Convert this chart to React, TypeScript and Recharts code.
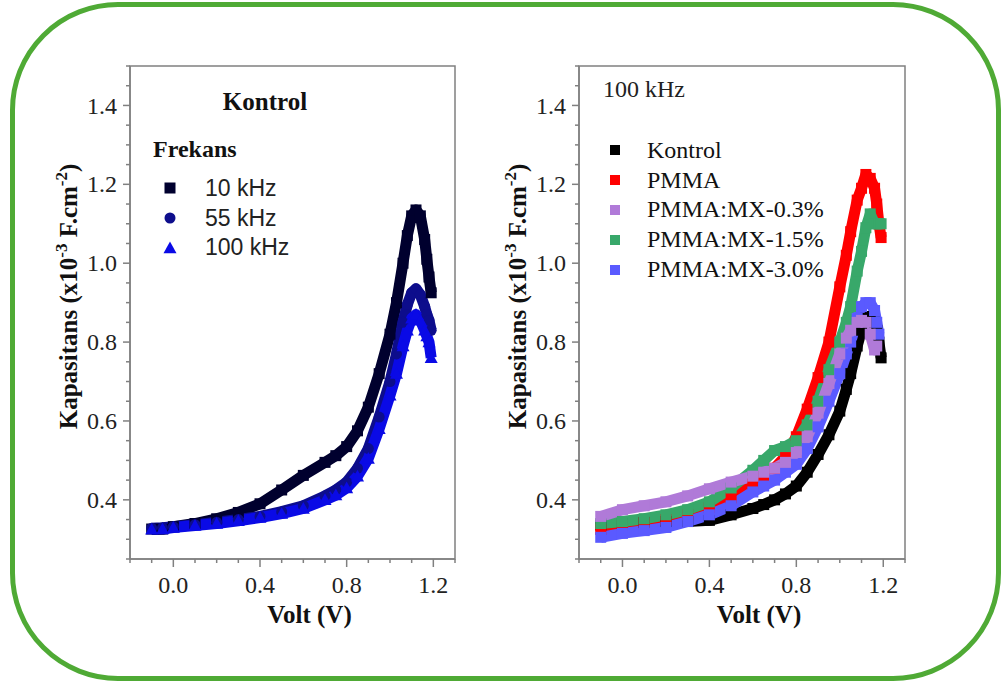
import React from 'react';
import { LineChart, Line, XAxis, YAxis, ReferenceArea, Customized } from 'recharts';

// ---------- DATA ----------
const voltsLeft = [-0.1, -0.05, 0.0, 0.1, 0.2, 0.3, 0.4, 0.5, 0.6, 0.7, 0.75, 0.8, 0.85, 0.9, 0.95, 1.0, 1.03, 1.06, 1.08, 1.1, 1.12, 1.14, 1.16, 1.17, 1.18, 1.19];
const cap10kHz = [0.326, 0.326, 0.332, 0.34, 0.352, 0.368, 0.39, 0.425, 0.462, 0.495, 0.512, 0.535, 0.575, 0.635, 0.72, 0.82, 0.9, 1.0, 1.07, 1.12, 1.135, 1.12, 1.06, 1.01, 0.965, 0.925];
const cap55kHz = [0.328, 0.329, 0.332, 0.337, 0.343, 0.35, 0.358, 0.37, 0.385, 0.41, 0.425, 0.445, 0.48, 0.53, 0.61, 0.7, 0.77, 0.85, 0.895, 0.925, 0.935, 0.92, 0.89, 0.87, 0.855, 0.83];
const cap100kHz = [0.325, 0.326, 0.33, 0.335, 0.34, 0.347, 0.355, 0.365, 0.378, 0.4, 0.412, 0.43, 0.46, 0.505, 0.58, 0.665, 0.72, 0.79, 0.83, 0.86, 0.87, 0.855, 0.83, 0.815, 0.8, 0.76];
const leftNames = ['10 kHz', '55 kHz', '100 kHz'];

const voltsRight = [-0.1, 0.0, 0.1, 0.2, 0.3, 0.4, 0.5, 0.6, 0.65, 0.7, 0.75, 0.8, 0.85, 0.9, 0.95, 1.0, 1.03, 1.05, 1.08, 1.1, 1.12, 1.14, 1.16, 1.17, 1.18, 1.19];
const capKontrol = [0.336, 0.34, 0.343, 0.345, 0.345, 0.348, 0.362, 0.378, 0.388, 0.4, 0.415, 0.435, 0.47, 0.515, 0.565, 0.625, 0.68, 0.72, 0.79, 0.83, 0.86, 0.865, 0.85, 0.83, 0.8, 0.76];
const capPMMA = [0.325, 0.335, 0.342, 0.35, 0.362, 0.38, 0.405, 0.44, 0.46, 0.48, 0.51, 0.56, 0.63, 0.71, 0.8, 0.94, 1.02, 1.08, 1.16, 1.19, 1.225, 1.215, 1.19, 1.15, 1.1, 1.065];
const capMX03 = [0.358, 0.375, 0.385, 0.395, 0.41, 0.428, 0.445, 0.46, 0.47, 0.48, 0.495, 0.52, 0.56, 0.62, 0.695, 0.77, 0.81, 0.83, 0.85, 0.855, 0.85, 0.82, 0.78, 0.79, null, null];
const capMX15 = [0.34, 0.345, 0.352, 0.362, 0.375, 0.395, 0.43, 0.475, 0.5, 0.525, 0.535, 0.55, 0.59, 0.65, 0.73, 0.8, 0.85, 0.89, 0.98, 1.03, 1.09, 1.125, 1.1, 1.1, 1.1, 1.1];
const capMX30 = [0.305, 0.315, 0.322, 0.33, 0.345, 0.362, 0.385, 0.42, 0.435, 0.45, 0.47, 0.49, 0.53, 0.585, 0.65, 0.72, 0.77, 0.8, 0.86, 0.89, 0.9, 0.9, 0.88, 0.85, 0.82, null];
const rightNames = ['Kontrol', 'PMMA', 'PMMA:MX-0.3%', 'PMMA:MX-1.5%', 'PMMA:MX-3.0%'];

const xTicks = [-0.2, -0.1, 0.0, 0.1, 0.2, 0.3, 0.4, 0.5, 0.6, 0.7, 0.8, 0.9, 1.0, 1.1, 1.2, 1.3];
const yTicks = [0.25, 0.3, 0.35, 0.4, 0.45, 0.5, 0.55, 0.6, 0.65, 0.7, 0.75, 0.8, 0.85, 0.9, 0.95, 1.0, 1.05, 1.1, 1.15, 1.2, 1.25, 1.3, 1.35, 1.4, 1.45, 1.5];

const leftData = voltsLeft.map((v, i) => ({ v, a: cap10kHz[i], b: cap55kHz[i], c: cap100kHz[i] }));
const rightData = voltsRight.map((v, i) => ({ v, k: capKontrol[i], p: capPMMA[i], m03: capMX03[i], m15: capMX15[i], m30: capMX30[i] }));

// ---------- STYLE ----------
const SERIF = "'Liberation Serif', 'Times New Roman', serif";
const SANS = "'Liberation Sans', Arial, sans-serif";
const AXIS = '#808080';
const leftColors = ['#00002e', '#0d0d8c', '#0a0ae6'];
const rightColors = ['#000000', '#ff0000', '#b07ad8', '#38a86a', '#5a5aff'];
const SW = 11;

const XTick = (props: any) => {
  const { x, y, payload } = props;
  const v = payload.value;
  const major = Math.round(v * 100) % 40 === 0;
  return (
    <g>
      <line x1={x} x2={x} y1={y} y2={y + (major ? 8 : 4)} stroke={AXIS} strokeWidth={1.5} />
      {major && (
        <text x={x} y={y + 34} textAnchor="middle" fontFamily={SERIF} fontSize={24} fill="#222">
          {v.toFixed(1)}
        </text>
      )}
    </g>
  );
};

const YTick = (props: any) => {
  const { x, y, payload } = props;
  const v = payload.value;
  const r = Math.round(v * 100);
  const major = r % 20 === 0;
  return (
    <g>
      <line x1={x - (major ? 7 : 4)} x2={x} y1={y} y2={y} stroke={AXIS} strokeWidth={1.5} />
      {major && (
        <text x={x - 13} y={y} dy="0.34em" textAnchor="end" fontFamily={SERIF} fontSize={24} fill="#222">
          {v.toFixed(1)}
        </text>
      )}
    </g>
  );
};

const YLabel = (props: any) => {
  const vb = props.viewBox || { x: 70, y: 66, width: 60, height: 493 };
  const cx = vb.x + vb.width - 53;
  const cy = vb.y + vb.height / 2 - 16;
  return (
    <text x={cx} y={cy} transform={`rotate(-90, ${cx}, ${cy})`} textAnchor="middle" fontFamily={SERIF} fontWeight="bold" fontSize={25} fill="#111">
      Kapasitans (x10<tspan dy={-10} fontSize={17}>-3</tspan>
      <tspan dy={10}> F.cm</tspan>
      <tspan dy={-10} fontSize={17}>-2</tspan>
      <tspan dy={10}>)</tspan>
    </text>
  );
};

const XLabel = (props: any) => {
  const vb = props.viewBox || { x: 130, y: 559, width: 325, height: 70 };
  const cx = vb.x + vb.width / 2 + 17;
  return (
    <text x={cx} y={vb.y + 64} textAnchor="middle" fontFamily={SERIF} fontWeight="bold" fontSize={25} fill="#111">
      Volt (V)
    </text>
  );
};

const marker = (shape: string, color: string, size: number) => (props: any) => {
  const { cx, cy, index } = props;
  if (cx == null || cy == null || props.value == null) return <g key={index} />;
  const h = size / 2;
  if (shape === 'circle') return <circle key={index} cx={cx} cy={cy} r={h} fill={color} />;
  if (shape === 'triangle')
    return <polygon key={index} points={`${cx},${cy - h} ${cx + h},${cy + h * 0.8} ${cx - h},${cy + h * 0.8}`} fill={color} />;
  return <rect key={index} x={cx - h} y={cy - h} width={size} height={size} fill={color} />;
};

const Shape = ({ shape, x, y, color, size }: any) => {
  const h = size / 2;
  if (shape === 'circle') return <circle cx={x} cy={y} r={h} fill={color} />;
  if (shape === 'triangle') return <polygon points={`${x},${y - h} ${x + h},${y + h * 0.8} ${x - h},${y + h * 0.8}`} fill={color} />;
  return <rect x={x - h} y={y - h} width={size} height={size} fill={color} />;
};

const leftShapes = ['square', 'circle', 'triangle'];

const LeftLegend = () => (
  <g>
    <text x={265} y={110} textAnchor="middle" fontFamily={SERIF} fontWeight="bold" fontSize={25} fill="#111">Kontrol</text>
    <text x={153} y={157} fontFamily={SERIF} fontWeight="bold" fontSize={24} fill="#111">Frekans</text>
    {leftNames.map((n, i) => (
      <g key={n}>
        <Shape shape={leftShapes[i]} x={170} y={188 + i * 30} color={leftColors[i]} size={i === 2 ? 13 : 11} />
        <text x={205} y={196 + i * 29.5} fontFamily={SANS} fontSize={23} fill="#222">{n}</text>
      </g>
    ))}
  </g>
);

const RightLegend = () => (
  <g>
    <text x={154} y={97} fontFamily={SERIF} fontSize={24} fill="#222">100 kHz</text>
    {rightNames.map((n, i) => (
      <g key={n}>
        <Shape shape="square" x={166} y={150 + i * 30} color={rightColors[i]} size={10} />
        <text x={198} y={158 + i * 29.7} fontFamily={SERIF} fontSize={24} fill="#111">{n}</text>
      </g>
    ))}
  </g>
);

const axesFor = () => [
  <XAxis key="x" dataKey="v" type="number" domain={[-0.2, 1.3]} ticks={xTicks} interval={0} allowDataOverflow
    tickSize={0} tickMargin={0} height={70} tick={<XTick />} axisLine={{ stroke: AXIS, strokeWidth: 1.5 }} tickLine={false}
    label={{ content: <XLabel /> } as any} />,
  <YAxis key="y" type="number" domain={[0.25, 1.5]} ticks={yTicks} interval={0} allowDataOverflow
    tickSize={0} tickMargin={0} width={60} tick={<YTick />} axisLine={{ stroke: AXIS, strokeWidth: 1.5 }} tickLine={false}
    label={{ content: <YLabel /> } as any} />,
  <ReferenceArea key="box" x1={-0.2} x2={1.3} y1={0.25} y2={1.5} fill="none" fillOpacity={0} stroke={AXIS} strokeWidth={1.5} ifOverflow="visible" />,
];

export default function App() {
  return (
    <div style={{ position: 'absolute', left: 0, top: 0, width: 1006, height: 686, background: '#fff', overflow: 'hidden' }}>
      <div style={{ position: 'absolute', left: 10, top: 2, width: 991, height: 679, border: '5px solid #4faa35', borderRadius: 108, boxSizing: 'border-box' }} />
      <div style={{ position: 'absolute', left: 0, top: 0 }}>
        <LineChart width={470} height={650} data={leftData} margin={{ top: 66, left: 70, right: 15, bottom: 21 }}>
          {axesFor()}
          <Line dataKey="a" stroke={leftColors[0]} strokeWidth={SW} strokeLinejoin="round" isAnimationActive={false} dot={marker('square', leftColors[0], SW)} />
          <Line dataKey="b" stroke={leftColors[1]} strokeWidth={SW} strokeLinejoin="round" isAnimationActive={false} dot={marker('circle', leftColors[1], SW)} />
          <Line dataKey="c" stroke={leftColors[2]} strokeWidth={SW} strokeLinejoin="round" isAnimationActive={false} dot={marker('triangle', leftColors[2], SW + 2)} />
          <Customized component={LeftLegend} />
        </LineChart>
      </div>
      <div style={{ position: 'absolute', left: 449, top: 0 }}>
        <LineChart width={470} height={650} data={rightData} margin={{ top: 66, left: 70, right: 14, bottom: 21 }}>
          {axesFor()}
          <Line dataKey="k" stroke={rightColors[0]} strokeWidth={SW} strokeLinejoin="round" isAnimationActive={false} dot={marker('square', rightColors[0], SW)} />
          <Line dataKey="p" stroke={rightColors[1]} strokeWidth={SW} strokeLinejoin="round" isAnimationActive={false} dot={marker('square', rightColors[1], SW)} />
          <Line dataKey="m15" stroke={rightColors[3]} strokeWidth={SW} strokeLinejoin="round" isAnimationActive={false} dot={marker('square', rightColors[3], SW)} />
          <Line dataKey="m30" stroke={rightColors[4]} strokeWidth={SW} strokeLinejoin="round" isAnimationActive={false} dot={marker('square', rightColors[4], SW)} />
          <Line dataKey="m03" stroke={rightColors[2]} strokeWidth={SW} strokeLinejoin="round" isAnimationActive={false} dot={marker('square', rightColors[2], SW)} />
          <Customized component={RightLegend} />
        </LineChart>
      </div>
    </div>
  );
}
